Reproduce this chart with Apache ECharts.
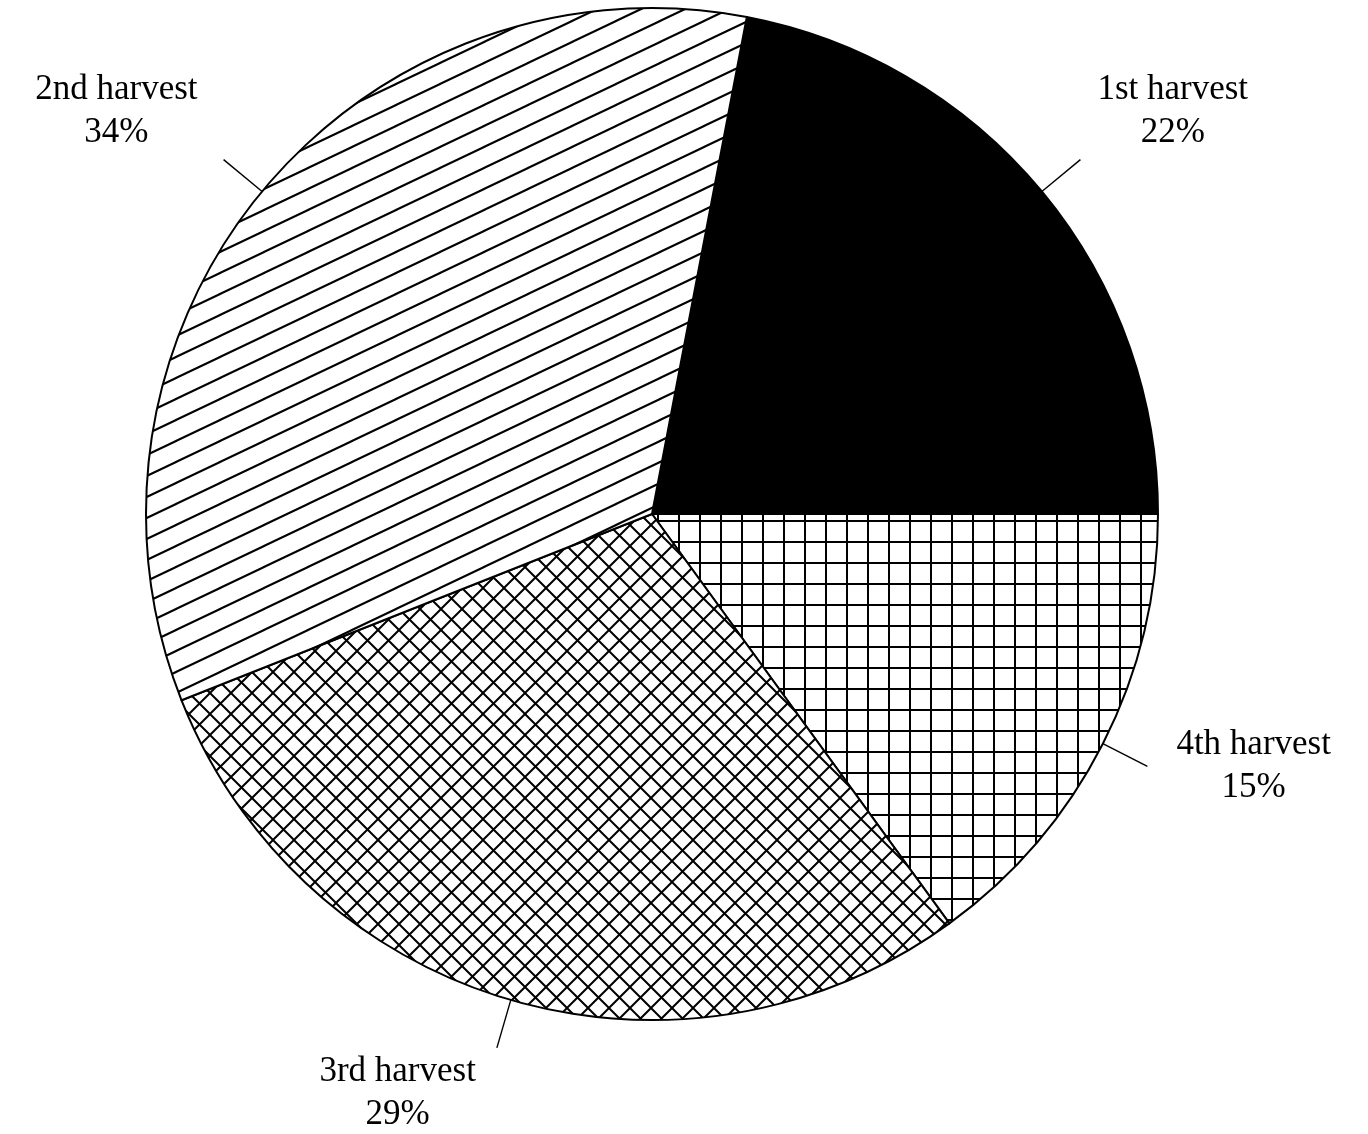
<!DOCTYPE html>
<html>
<head>
<meta charset="utf-8">
<script src="https://cdn.jsdelivr.net/npm/echarts@6/dist/echarts.min.js"></script>
<style>
  html, body { margin: 0; background: #fff; }
  #chart { width: 1368px; height: 1134px; }
</style>
</head>
<body>
<div id="chart"></div>
<script>
// slices in clockwise order, starting just right of 12 o'clock
const harvests = ['1st harvest', '4th harvest', '3rd harvest', '2nd harvest']
const shares   = [22, 15, 29, 34]

// text block offsets so each label sits where the original put it
const labelPad = {
  '1st harvest': [0, 0, 96, 12],
  '4th harvest': [0, 0, 0, 24],
  '3rd harvest': [90, 16, 0, 0],
  '2nd harvest': [0, 21, 96, 0],
}

function tile(w, h, draw) {
  const c = document.createElement('canvas')
  c.width = w
  c.height = h
  const ctx = c.getContext('2d')
  ctx.fillStyle = '#fff'
  ctx.fillRect(0, 0, w, h)
  ctx.strokeStyle = '#000'
  ctx.fillStyle = '#000'
  draw(ctx, w, h)
  return { image: c, repeat: 'repeat' }
}

// ── fills ────────────────────────────────────────────
const fills = {
  '1st harvest': '#000',
  // square grid
  '4th harvest': tile(21, 21, (ctx) => {
    ctx.fillRect(6, 0, 2, 21)
    ctx.fillRect(0, 16, 21, 2)
  }),
  // diagonal cross-hatch
  '3rd harvest': tile(21, 21, (ctx, w, h) => {
    ctx.lineWidth = 2
    ctx.beginPath()
    ctx.moveTo(-2, -2); ctx.lineTo(w + 2, h + 2)
    ctx.moveTo(-2, h + 2); ctx.lineTo(w + 2, -2)
    ctx.stroke()
  }),
  // single rising hatch
  '2nd harvest': tile(44, 21, (ctx, w, h) => {
    ctx.lineWidth = 2.1
    ctx.beginPath()
    for (let k = -1; k <= 1; k++) {
      ctx.moveTo(-w, h * (1 + k) + h)
      ctx.lineTo(2 * w, h * (1 + k) - 2 * h)
    }
    ctx.stroke()
  }),
}

const chart = echarts.init(document.getElementById('chart'))

chart.setOption({
  backgroundColor: '#fff',
  animation: false,
  series: [{
    type: 'pie',
    center: [652, 514],
    radius: 506,
    startAngle: 79.2,
    avoidLabelOverlap: false,
    silent: true,
    itemStyle: { borderColor: '#000', borderWidth: 2 },
    label: {
      position: 'outside',
      formatter: '{t|{b}}\n{t|{c}%}',
      rich: {
        t: {
          fontFamily: '"Liberation Serif", "Times New Roman", serif',
          fontSize: 35,
          lineHeight: 43,
          color: '#000',
          align: 'center',
        },
      },
    },
    labelLine: {
      length: 50,
      length2: 0,
      lineStyle: { color: '#000', width: 1.4 },
    },
    data: harvests.map((name, i) => ({
      name,
      value: shares[i],
      itemStyle: { color: fills[name] },
      label: { padding: labelPad[name] },
    })),
  }],
})
</script>
</body>
</html>
